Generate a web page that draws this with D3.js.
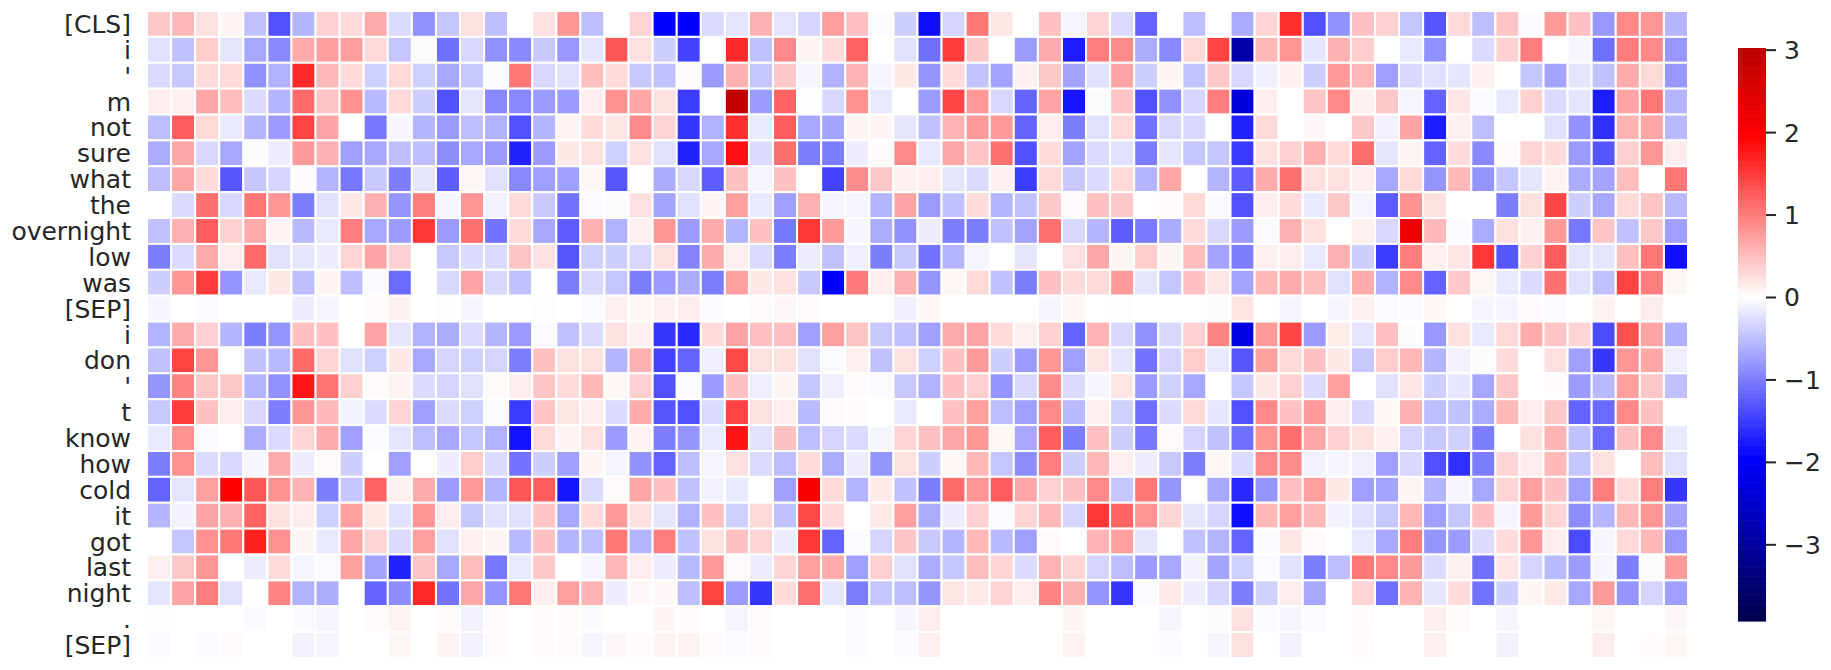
<!DOCTYPE html>
<html>
<head>
<meta charset="utf-8">
<script src="https://cdn.jsdelivr.net/npm/d3@7"></script>
<style>
html,body{margin:0;padding:0;background:#fff;}
svg{display:block;}
text{font-family:"DejaVu Sans",sans-serif;fill:#262626;}
</style>
</head>
<body>
<svg id="chart" width="1831" height="670"></svg>
<script>
const tokens = ["[CLS]","i","'","m","not","sure","what","the","overnight","low","was","[SEP]","i","don","'","t","know","how","cold","it","got","last","night",".","[SEP]"];
const colorTicks = [-3,-2,-1,0,1,2,3];
const vMin = -3.93, vMax = 3.02;

const r00 = [.42,.55,.24,.08,-.48,-1.35,-.58,.36,.28,.65,-.28,-.85,-.45,.24,-.5,0,.24,.8,-.5, 0,.34,-1.96,-1.96,-.28,-.21,.6,-.21,-.32,.75,.48,-.04,-.38,-1.87,-.33,1.04,.2,0,.48,-.08,.33,-.28,-1.2,0,-.5, 0,-.65,.33,1.6,-1.35,-.85,.48,.36,-.45,-1.3,.3,-.5,.45,-.03,.78,.48,-.8,.92,.82,-.58];
const r01 = [-.24,-.48,.39,-.2,-.68,-.92,.65,.75,.75,.3,-.45,-.02,-1.1,-.3,-.85,-.92,-.42,-.8,-.2, 1.3,.24,-.38,-1.45,0,1.65,-.48,.92,.08,.28,1.2,0,-.24,-1.1,1.5,.42,0,-.76,.65,-1.75,1.0,.9,-.64,-.92,.3, 1.45,-2.9,.55,.82,-.2,.6,.39,0,-.18,-.85,0,-.28,.36,1.0,0,-.07,-1.1,1.0,.92,-.8];
const r02 = [-.28,-.42,.28,.28,-.85,-.6,1.65,.55,.28,-.36,.3,-.36,-.68,-.42,-.02,1.05,-.3,-.24,.5, .28,-.42,-.48,.03,-.76,.6,-.45,.42,-.08,-.6,.58,-.08,.18,-.82,.28,-.46,-.72,.12,.42,-.7,-.24,.7,-.38,.08,-.46, .42,-.3,-.12,.12,-.38,.78,.55,-.74,-.3,-.24,-.2,.12,0,-.45,-.7,-.2,-.48,.65,.3,-.8];
const r03 = [.15,.12,.68,.5,-.28,-.58,1.15,.45,.85,-.54,.3,-.38,-1.35,-.2,-.92,-.92,-.78,-.78,.15, .85,.68,.24,-1.5,0,2.92,-.76,1.2,.01,-.3,.85,-.18,0,-.78,1.42,.78,-.3,-1.2,.7,-1.8,-.02,.45,-1.35,-.85,-.33, 1.0,-2.37,.15,0,.45,.92,.12,.42,-.08,-1.2,.2,-.04,-.18,.36,-.28,-.2,-1.75,.7,1.05,-.58];
const r04 = [-.5,1.25,.3,-.17,-.58,-.78,1.45,.7,0,-1.05,-.07,-.58,-.78,-.5,-.6,-1.35,-.58,.08,.28, .2,.9,.33,-1.55,-.6,1.6,-.17,1.25,-.68,-.7,.08,.08,-.2,-.48,.58,.78,.78,-1.2,.15,-1.0,-.24,.3,-1.08,-.3,-.3, 0,-1.7,.3,0,.06,0,.42,-.1,.7,-1.74,.12,-.5,0,0,-.24,-.85,-1.6,.58,.68,-.54];
const r05 = [-.64,.68,-.3,-.68,-.02,-.14,.78,.6,-.74,-.68,-.5,-.5,-.88,-.68,-.78,-1.7,-.78,.18,.24, -.36,.24,-.24,-1.7,-.68,1.85,-.28,1.12,-1.0,-1.0,-.14,.04,.92,-.18,.68,.45,1.1,-1.35,.28,-.7,-.28,-.24,-1.0,-.2,-.45, -.45,-1.52,.24,.36,.6,.28,1.12,-.2,.08,-1.2,.28,-.92,.04,.33,.28,-.78,-1.3,.36,.82,.15];
const r06 = [-.5,.68,.28,-1.3,-.45,-.33,.03,-.58,-1.05,-.42,-1.0,-.2,-1.25,.07,-.24,-.92,-.74,-.74,.07, -1.3,0,-.65,-.3,-1.25,.48,-.08,.48,0,-1.45,.9,.42,.12,.15,-.2,-.28,.12,-1.5,.3,-.42,-.28,.3,-.58,.68,0, -.58,-1.25,.65,1.1,.24,.24,.13,-.68,.3,-.82,.55,-.82,-.45,-.2,.1,-.64,-.7,.5,0,1.05];
const r07 = [0,-.28,1.1,-.3,1.05,.82,-1.0,-.24,.18,.6,-.82,1.0,-.08,.82,-.1,.28,-.42,-1.08,-.04, -.02,.24,-.7,-.24,.08,.74,-.18,-.74,.6,-.08,-.08,-.58,.7,-.78,-.48,.28,-.58,-.48,.42,.04,.48,.42,0,.03,.3, -.05,-1.35,.15,.28,-.18,.42,-.08,-1.25,.85,.24,0,0,-1.0,.24,1.42,-.38,-.68,.3,.45,-.54];
const r08 = [-.48,.6,1.25,.36,.65,.08,-.54,-.18,1.0,-.68,-.76,1.55,-.78,1.1,-1.08,.28,-.68,-1.25,.6, -.6,.12,.82,-.76,.65,-.58,.48,-1.05,1.55,.78,-.07,-.64,-.85,-.14,-1.0,-1.0,-.48,-.72,1.1,-.3,-.58,-1.25,-1.02,-.65,.28, -.3,-.76,-.03,.6,.24,0,.12,-.3,2.2,.55,-.04,-.64,.24,.12,.78,-1.05,.45,-.48,.42,-.74];
const r09 = [-1.0,-.28,.65,.15,1.15,-.24,-.2,-.14,.33,.7,.36,0,-.42,-.28,-.28,.45,.24,-1.3,-.36, -.38,-.3,.24,-.95,.65,.12,-.28,-1.0,-.14,-.48,-.12,-1.0,-.42,-1.08,-.58,-.08,0,-.2,0,.24,.68,.08,.39,.08,.5, -.7,-1.0,.12,.15,-.18,.6,-.38,-1.5,1.0,.12,.2,1.55,-1.3,.36,1.25,-.2,-.2,.48,1.05,-1.85];
const r10 = [-.38,.82,1.5,-.82,-.18,.18,-.5,.08,-.5,-.05,-1.15,0,-.3,.7,-.3,-.48,0,-1.0,-.3, -.45,-1.0,-.76,-.64,-1.0,.74,.18,.24,-.42,-1.96,1.02,.15,.6,-.82,.07,.3,-.48,-1.0,.48,.28,.3,.78,-.2,-.45,.48, .2,-.7,.55,.65,.5,-.24,.65,-.6,.92,-1.2,.42,.07,-.18,-.28,1.1,-.24,-.48,1.45,1.0,.07];
const r11 = [-.08,0,-.03,0,0,0,-.14,-.08,0,.03,.12,0,.02,-.07,0,0,.02,0,-.03, .12,.07,.12,.15,-.03,0,.03,.06,.03,0,0,0,-.12,.07,0,0,0,0,-.07,.07,0,.02,0,0,0, -.02,.22,0,-.07,0,-.07,.12,-.04,-.04,.07,0,-.07,-.08,.03,-.03,0,.1,0,.15,0];
const r12 = [-.58,.65,.36,-.58,-1.0,-.82,.48,.48,0,.7,-.2,-.6,-.64,-.28,-.58,-.78,-.04,-.48,-.28, .24,.12,-1.55,-1.65,.28,.7,.48,.48,-.74,.74,.45,-.42,-.48,-.74,.65,.7,.28,.12,.36,-1.2,.58,-.3,-.85,-.3,.36, .95,-2.3,.78,1.42,-.78,.16,-.2,.48,-.02,-.8,.24,-.18,.3,.65,.45,.33,-1.38,1.35,.7,-.62];
const r13 = [-.48,1.45,.82,0,-.48,-.54,1.15,.33,-.24,-.36,.18,-.68,-.33,-.36,-.33,-1.0,.48,.24,.24, -.58,.6,-1.45,-1.2,-.12,1.4,.24,.24,-.24,-.04,.12,-.48,.24,-.36,.48,.78,-.38,-.76,.82,-.74,.2,-.2,-1.08,-.33,.39, -.18,-1.3,.74,.3,.48,.18,-.42,.39,.55,-.58,-.1,-.02,.28,0,.24,-.74,-1.55,.82,.68,-.13];
const r14 = [-.82,.95,.42,.42,-.58,-.85,1.8,1.08,.36,.04,.1,-.28,-.33,-.24,.05,.15,.45,.28,.55, .07,.36,-1.35,-.04,-.76,.48,-.13,.08,-.45,-.13,.04,-.04,-.42,-.6,.48,.36,-.82,-.3,.9,-.28,-.07,.2,-.78,-.36,-.68, 0,-.45,.18,.36,-.28,.74,0,-.24,.2,-.38,-.2,-.68,.42,0,.03,-.76,-.54,.74,.42,-.48];
const r15 = [-.42,1.5,.48,.15,-.3,-1.0,.82,.55,-.1,-.28,.33,-.74,-.28,-.36,-.04,-1.5,.45,.2,.15, -.28,.65,-1.3,-1.35,-.28,1.45,.24,.15,-.54,.05,.03,0,-.18,0,.48,.74,-.5,-.74,.92,-.54,.12,-.36,-1.1,-.28,.3, -.2,-1.35,.92,.48,.78,.15,-.3,.07,.6,-.5,-.48,-.64,.55,.15,.42,-1.2,-1.15,.92,.48,0];
const r16 = [-.18,.85,-.04,0,-.64,-.28,.33,.65,-.74,-.04,-.2,-.5,-.68,-.45,-.6,-1.83,.3,.08,.24, -.76,.1,-1.0,-.82,-.18,1.82,-.24,.48,-.5,-.33,-.28,-.07,.33,.48,.68,.8,.07,-.68,1.25,-1.0,.48,-.38,-1.05,.05,-.33, -.48,-1.1,.82,1.12,.68,.36,.24,.12,-.33,-.42,-.36,-1.0,0,.24,.58,-.48,-1.15,.48,.92,-.18];
const r17 = [-1.0,.85,-.28,-.3,-.07,.65,-.14,.05,-.38,0,-.74,0,-.14,.39,-.28,-1.08,-.38,-.74,.08, -.08,-.85,-1.2,-.5,-.08,.24,-.28,-.5,.28,-.64,-.14,-.82,.24,-.38,.07,.55,-.45,-.88,1.0,-.38,.55,.12,-.14,-.42,-1.0, .07,-.28,.9,.9,-.1,-.08,-.12,-.74,-.3,-1.35,-1.6,-1.0,.33,.15,.55,-.45,.24,0,.5,-.24];
const r18 = [-1.2,-.2,.74,1.96,1.3,.85,.58,-1.0,-.45,1.2,.12,.65,-.76,.78,-.58,1.3,1.25,-1.8,-.28, .05,.68,.48,-.48,-.1,-.18,0,-.74,2.1,.28,-.58,.17,-.48,-1.0,1.15,.82,1.25,.68,.36,.48,.92,-.45,1.05,-.82,0, -.68,-1.65,-.82,.48,.74,.18,-.74,-.7,.08,-.58,-.07,-.68,.33,.74,.48,-.74,1.0,.28,1.0,-1.55];
const r19 = [-.58,-.1,.7,.6,1.2,.24,.15,-.36,.74,.17,-.24,.82,.15,-.42,-.24,-.24,.45,-.68,.28, .78,.24,-.2,-.6,.48,-.36,.3,-.48,1.4,.28,0,.17,.74,-.64,-.14,.36,-.04,.33,.55,-.33,1.55,1.2,.82,.33,-.2, -.32,-1.85,.55,.74,.55,-.1,-.24,-.42,.55,-.74,-.45,.48,-.08,.78,.33,-.88,-.58,.55,.82,-.7];
const r20 = [0,-.45,.85,1.05,1.72,.85,.08,-.18,.68,.33,-.28,.74,-.24,.12,.08,-.54,.48,-.58,-.5, 1.05,-.58,1.0,-.48,.24,.48,.33,-.14,1.55,-1.2,-.04,-.33,.45,-.42,-.58,.55,-.54,-.74,.05,0,.58,.74,-.2,0,-.48, -.58,-1.2,-.04,.2,.05,0,-.18,-.68,1.0,-.82,-.76,-.28,.28,.82,.15,-1.38,-.07,.3,.55,-.8];
const r21 = [.12,.42,.8,0,-.14,.28,-.08,-.04,.74,-.7,-1.7,.45,-.68,.5,-1.05,-.18,.42,0,-.08, .55,.15,-.14,-.54,.78,.05,-.14,.33,.74,.65,-.74,.36,-.24,-.64,-.45,.5,.33,-.28,.58,.33,-.33,-.5,-.76,-.68,-.1, -.7,-.36,-.03,-.24,-1.0,-.5,1.05,.92,.78,-.28,.12,-1.1,.2,-.33,-.54,-.76,-.07,-1.0,-.02,.78];
const r22 = [-.2,.7,1.0,-.24,0,.95,-.6,-.64,0,-1.2,-.88,1.65,-1.08,.68,-.82,1.05,.15,.74,.58, -.14,.06,.06,-.5,1.45,-.76,-1.55,.28,1.1,-.2,-1.0,-.45,-.5,-.82,.2,.17,.33,.15,.95,.6,-.82,-1.55,-.04,.17,-.14, -.32,-1.0,-.36,.15,-.68,0,.33,-1.1,.58,-.2,.28,-1.08,-.38,.08,.17,-.68,.78,-.82,-.33,-.74];
const r23 = [-.01,0,0,0,-.05,0,-.05,-.08,0,.04,.1,0,.03,-.1,.03,0,.03,.03,-.05, 0,0,.08,.04,0,-.08,.04,0,0,0,-.03,0,-.07,.15,0,0,0,0,0,.08,0,0,0,-.07,0, -.02,.24,-.03,-.08,-.03,0,.03,0,0,.13,.04,0,-.07,0,0,0,.07,0,0,.06];
const r24 = [-.04,0,-.04,.03,0,0,-.1,-.08,0,0,.07,0,.1,-.1,.04,0,.03,.04,-.08, .06,.04,.1,.1,.04,-.03,.04,0,0,0,-.03,0,-.03,.12,0,0,0,0,0,.1,0,0,0,-.04,0, -.07,.24,0,-.1,0,0,.03,0,0,.12,0,0,-.1,0,0,0,.14,0,.03,.07];

const rows = [r00,r01,r02,r03,r04,r05,r06,r07,r08,r09,r10,r11,r12,r13,r14,r15,r16,r17,r18,r19,r20,r21,r22,r23,r24];

const W = 1831, H = 670;
const plot = {left:147, right:1688, top:11, bottom:658};
const bar = {left:1738, right:1766, top:48, bottom:621};

const svg = d3.select("#chart");
const nCols = d3.max(rows, r => r.length);

const x = d3.scaleBand().domain(d3.range(nCols)).range([plot.left, plot.right]);
const y = d3.scaleBand().domain(d3.range(tokens.length)).range([plot.top, plot.bottom]);

// seaborn "seismic" with center=0: symmetric range around zero
const vr = Math.max(-vMin, vMax);
const color = d3.scaleLinear()
  .domain([-vr, -vr/2, 0, vr/2, vr])
  .range(["rgb(0,0,76)","rgb(0,0,255)","rgb(255,255,255)","rgb(255,0,0)","rgb(128,0,0)"])
  .clamp(true);

svg.append("g").selectAll("g").data(rows).join("g")
  .attr("transform", (d,i) => `translate(0,${y(i)})`)
  .selectAll("rect").data(d => d).join("rect")
  .attr("x", (d,i) => x(i))
  .attr("width", x.bandwidth())
  .attr("height", y.bandwidth())
  .attr("fill", d => color(d))
  .attr("stroke", "#fff")
  .attr("stroke-width", 2);

// token labels
const yAxis = d3.axisLeft(y).tickSize(0).tickPadding(0).tickFormat(i => tokens[i]);
const gy = svg.append("g").attr("transform", `translate(131,1)`).call(yAxis);
gy.select(".domain").remove();
gy.selectAll("text").style("font-size","25px").attr("fill","#262626");

// colour bar
const barScale = d3.scaleLinear().domain([vMin, vMax]).range([bar.bottom, bar.top]);
const levels = d3.range(256).map(i => vMin + (vMax - vMin) * i / 255);
const step = (bar.bottom - bar.top) / 256;
svg.append("g").selectAll("rect").data(levels).join("rect")
  .attr("x", bar.left)
  .attr("width", bar.right - bar.left)
  .attr("y", (d,i) => bar.bottom - (i + 1) * step)
  .attr("height", step + 0.6)
  .attr("fill", d => color(d));

const cAxis = d3.axisRight(barScale).tickValues(colorTicks).tickSize(10).tickPadding(8).tickFormat(d => d3.format("d")(d).replace("-", "\u2212"));
const gc = svg.append("g").attr("transform", `translate(${bar.right},0)`).call(cAxis);
gc.select(".domain").remove();
gc.selectAll("line").attr("stroke","#262626").attr("stroke-width",2);
gc.selectAll("text").style("font-size","25px").attr("transform","translate(0,1)").attr("fill","#262626");
</script>
</body>
</html>
